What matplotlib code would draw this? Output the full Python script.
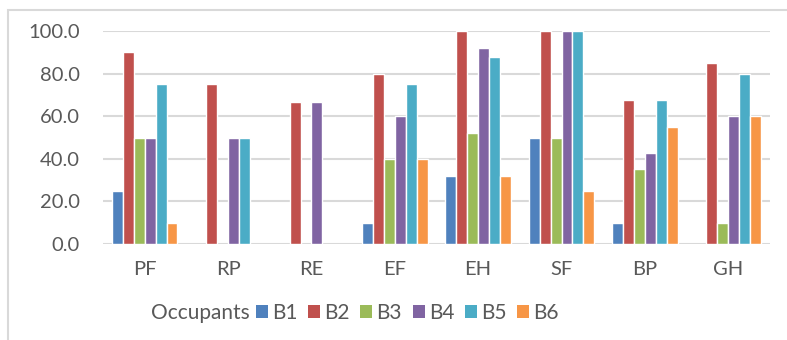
import numpy as np
import matplotlib
matplotlib.use("Agg")
import matplotlib.pyplot as plt
from matplotlib.patches import Rectangle, Patch

# Scores per domain for each occupant group
categories = ["PF", "RP", "RE", "EF", "EH", "SF", "BP", "GH"]
series_names = ["B1", "B2", "B3", "B4", "B5", "B6"]
b1 = [25, 0, 0, 10, 32, 50, 10, 0]
b2 = [90, 75, 66.7, 80, 100, 100, 67.5, 85]
b3 = [50, 0, 0, 40, 52, 50, 35, 10]
b4 = [50, 50, 66.7, 60, 92, 100, 42.5, 60]
b5 = [75, 50, 0, 75, 88, 100, 67.5, 80]
b6 = [10, 0, 0, 40, 32, 25, 55, 60]
yticks = [0, 20, 40, 60, 80, 100]

series = [b1, b2, b3, b4, b5, b6]
colors = ["#4F81BD", "#C0504D", "#9BBB59", "#8064A2", "#4BACC6", "#F79646"]
text_color = "#595959"
grid_color = "#D9D9D9"

plt.rcParams["font.family"] = ["Lato", "DejaVu Sans"]

fig = plt.figure(figsize=(7.87, 3.40), dpi=100)
fig.patches.append(Rectangle((8 / 787, -0.1), 1.0, 1 - 10 / 340 + 0.1,
                             transform=fig.transFigure, fill=False,
                             edgecolor=grid_color, linewidth=1.5))

ax = fig.add_axes([103 / 787, 1 - 244 / 340, (770 - 103) / 787, (244 - 31) / 340])

x = np.arange(len(categories))
slot = 0.131
for i, (vals, col) in enumerate(zip(series, colors)):
    vals = np.asarray(vals, dtype=float)
    offs = x + (i - 2.5) * slot
    mask = vals > 0
    ax.bar(offs[mask], vals[mask], width=slot, color=col,
           edgecolor="white", linewidth=1.0, zorder=3)

ax.set_xlim(-0.5, len(categories) - 0.5)
ax.set_ylim(0, 100)
ax.set_yticks(yticks)
ax.set_yticklabels([f"{t:.1f}" for t in yticks])
ax.set_xticks(x)
ax.set_xticklabels(categories)
ax.tick_params(axis="both", length=0, labelsize=14.5, colors=text_color)
ax.tick_params(axis="y", pad=16.5)
ax.tick_params(axis="x", pad=12)
ax.grid(axis="y", color=grid_color, linewidth=1.5, zorder=0)
ax.set_axisbelow(True)
for s in ax.spines.values():
    s.set_visible(False)

fig.text(151 / 787, 1 - 313 / 340, "Occupants", fontsize=15,
         color=text_color, va="center", ha="left")
handles = [Patch(facecolor=c, edgecolor="none") for c in colors]
leg = fig.legend(handles, series_names, ncol=6, loc="center left",
                 bbox_to_anchor=(256 / 787, 1 - 313 / 340), frameon=False,
                 fontsize=15, handlelength=0.58, handleheight=0.58,
                 handletextpad=0.2, columnspacing=0.5, borderaxespad=0,
                 borderpad=0)
for t in leg.get_texts():
    t.set_color(text_color)

fig.savefig("out.png", dpi=100, facecolor="white")
